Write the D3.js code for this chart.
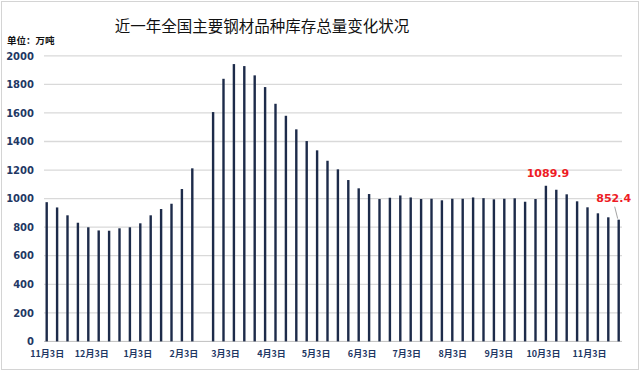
<!DOCTYPE html>
<html>
<head>
<meta charset="utf-8">
<script src="https://cdn.jsdelivr.net/npm/d3@7"></script>
<style>
  body { margin: 0; background: #fff; }
  svg { display: block; }
</style>
</head>
<body>
<svg width="640" height="372"></svg>
<script>
// weekly inventory, 10k tonnes (week of Feb 16 has no data: spring festival)
var weeks = [
  "2017-11-03","2017-11-10","2017-11-17","2017-11-24","2017-12-01","2017-12-08","2017-12-15",
  "2017-12-22","2017-12-29","2018-01-05","2018-01-12","2018-01-19","2018-01-26","2018-02-02",
  "2018-02-09","2018-02-23","2018-03-02","2018-03-09","2018-03-16","2018-03-23","2018-03-30",
  "2018-04-06","2018-04-13","2018-04-20","2018-04-27","2018-05-04","2018-05-11","2018-05-18",
  "2018-05-25","2018-06-01","2018-06-08","2018-06-15","2018-06-22","2018-06-29","2018-07-06",
  "2018-07-13","2018-07-20","2018-07-27","2018-08-03","2018-08-10","2018-08-17","2018-08-24",
  "2018-08-31","2018-09-07","2018-09-14","2018-09-21","2018-09-28","2018-10-05","2018-10-12",
  "2018-10-19","2018-10-26","2018-11-02","2018-11-09","2018-11-16","2018-11-23"
];
var stock = [
  975, 938, 883, 831, 799, 777, 775,
  792, 799, 827, 883, 927, 964, 1067,
  1212, 1606, 1839, 1942, 1928, 1863, 1781,
  1664, 1580, 1485, 1403, 1338, 1265, 1205,
  1130, 1072, 1032, 997, 1006, 1022, 1008,
  997, 999, 988, 999, 999, 1008, 1003,
  995, 999, 1002, 978, 997, 1089.9, 1062,
  1030, 981, 939, 897, 869, 852.4
];
var tickDates = [
  "2017-11-03","2017-12-03","2018-01-03","2018-02-03","2018-03-03","2018-04-03","2018-05-03",
  "2018-06-03","2018-07-03","2018-08-03","2018-09-03","2018-10-03","2018-11-03"
];
var yTicks = [0, 200, 400, 600, 800, 1000, 1200, 1400, 1600, 1800, 2000];
var labelled = ["2018-10-05", "2018-11-23"];

var parse = d3.timeParse("%Y-%m-%d");
var fmt = d3.timeFormat("%-m月%-d日");

var svg = d3.select("svg");
var navy = "#1d2b4a";
var labelColor = "#1f3864";

svg.append("rect")
  .attr("x", 1.5).attr("y", 1.5)
  .attr("width", 637).attr("height", 368)
  .attr("fill", "#fff")
  .attr("stroke", "#d4d4d4");

var x = d3.scaleTime()
  .domain([parse(weeks[0]), parse(weeks[weeks.length - 1])])
  .range([46.7, 618.7]);
var y = d3.scaleLinear().domain([0, 2000]).range([341.4, 55.8]);

// gridlines
svg.append("g")
  .selectAll("line")
  .data(yTicks.slice(1))
  .enter().append("line")
  .attr("x1", 44).attr("x2", 622)
  .attr("y1", function(d) { return y(d); })
  .attr("y2", function(d) { return y(d); })
  .attr("stroke", "#d9d9d9")
  .attr("stroke-width", 1.3);

// y axis labels
var yAxis = svg.append("g")
  .attr("transform", "translate(39,0)")
  .call(d3.axisLeft(y).tickValues(yTicks).tickFormat(d3.format("d")).tickSize(0).tickPadding(5));
yAxis.select(".domain").remove();
yAxis.selectAll("text")
  .attr("font-family", "'DejaVu Sans', sans-serif")
  .attr("font-weight", "bold")
  .attr("font-size", "10px")
  .attr("fill", labelColor);

// baseline
svg.append("line")
  .attr("x1", 44).attr("x2", 622)
  .attr("y1", y(0)).attr("y2", y(0))
  .attr("stroke", "#bfbfbf")
  .attr("stroke-width", 1);

// x axis labels
var xAxis = svg.append("g")
  .attr("transform", "translate(0," + y(0) + ")")
  .call(d3.axisBottom(x).tickValues(tickDates.map(parse)).tickFormat(fmt).tickSize(0).tickPadding(9));
xAxis.select(".domain").remove();
xAxis.selectAll("text")
  .attr("font-family", "'Noto Sans CJK SC', sans-serif")
  .attr("font-weight", "bold")
  .attr("font-size", "9px")
  .attr("fill", labelColor);

// bars
var data = weeks.map(function(w, i) { return { date: parse(w), key: w, value: stock[i] }; });
svg.append("g")
  .selectAll("rect")
  .data(data)
  .enter().append("rect")
  .attr("x", function(d) { return x(d.date) - 1.2; })
  .attr("y", function(d) { return y(d.value); })
  .attr("width", 2.4)
  .attr("height", function(d) { return y(0) - y(d.value); })
  .attr("fill", navy);

// value labels
var marked = data.filter(function(d) { return labelled.indexOf(d.key) >= 0; });
svg.append("line")
  .attr("x1", x(marked[1].date) - 4).attr("y1", y(marked[1].value) - 13)
  .attr("x2", x(marked[1].date) - 1).attr("y2", y(marked[1].value) - 1)
  .attr("stroke", "#8c8c8c")
  .attr("stroke-width", 0.8);
svg.append("g")
  .selectAll("text")
  .data(marked)
  .enter().append("text")
  .attr("x", function(d, i) { return x(d.date) + (i === 0 ? 2 : -5); })
  .attr("y", function(d, i) { return y(d.value) - (i === 0 ? 9 : 18); })
  .attr("text-anchor", "middle")
  .attr("font-family", "'DejaVu Sans', sans-serif")
  .attr("font-weight", "bold")
  .attr("font-size", "11px")
  .attr("fill", "#ee1c25")
  .text(function(d) { return d.value; });

// title + unit
svg.append("text")
  .attr("x", 262).attr("y", 32)
  .attr("text-anchor", "middle")
  .attr("font-family", "'Noto Sans CJK SC', sans-serif")
  .attr("font-size", "15.5px")
  .attr("fill", "#111")
  .text("近一年全国主要钢材品种库存总量变化状况");

svg.append("text")
  .attr("x", 7).attr("y", 44)
  .attr("font-family", "'Noto Sans CJK SC', sans-serif")
  .attr("font-weight", "bold")
  .attr("font-size", "9.5px")
  .attr("fill", "#111")
  .text("单位：万吨");
</script>
</body>
</html>
